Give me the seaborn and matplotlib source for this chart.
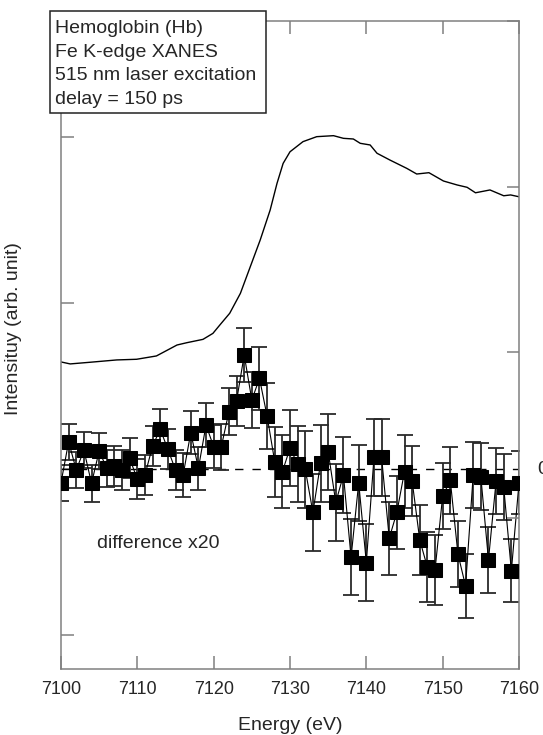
import numpy as np
import matplotlib
matplotlib.use("Agg")
import matplotlib.pyplot as plt
from matplotlib.patches import Rectangle
import seaborn as sns

# ground state Fe K-edge XANES (arb. units)
xanes_energy = [7100.0, 7101.2, 7103.8, 7107.3, 7109.9, 7112.5, 7115.2, 7116.5,
                7118.6, 7119.9, 7120.8, 7122.1, 7123.5, 7124.8, 7126.1, 7127.4,
                7128.3, 7129.1, 7130.0, 7131.7, 7133.5, 7135.7, 7137.0, 7138.3,
                7139.2, 7140.5, 7141.4, 7143.1, 7145.3, 7146.6, 7148.2, 7150.1,
                7151.9, 7153.2, 7154.3, 7156.2, 7158.0, 7158.9, 7160.0]
xanes_signal = [0.645, 0.633, 0.643, 0.657, 0.661, 0.681, 0.747, 0.761,
                0.781, 0.817, 0.867, 0.938, 1.058, 1.219, 1.380, 1.560,
                1.721, 1.841, 1.911, 1.972, 2.002, 2.008, 1.992, 1.988,
                1.962, 1.952, 1.902, 1.861, 1.811, 1.777, 1.785, 1.735,
                1.711, 1.697, 1.664, 1.681, 1.646, 1.651, 1.640]

# laser on - laser off difference (x20), 1 eV steps
diff_energy = list(range(7100, 7161))
diff_signal = [-0.083, 0.164, -0.006, 0.114, -0.086, 0.108, 0.004, 0.018, -0.006, 0.064,
               -0.062, -0.036, 0.139, 0.239, 0.119, -0.006, -0.036, 0.219, 0.004, 0.265,
               0.134, 0.134, 0.345, 0.410, 0.687, 0.416, 0.546, 0.319, 0.044, -0.016,
               0.125, 0.030, -0.002, -0.261, 0.034, 0.104, -0.201, -0.036, -0.532, -0.083,
               -0.564, 0.070, 0.070, -0.417, -0.261, -0.016, -0.072, -0.428, -0.592, -0.608,
               -0.163, -0.069, -0.512, -0.705, -0.036, -0.046, -0.548, -0.072, -0.110, -0.613,
               -0.084]
diff_error = [0.11, 0.11, 0.11, 0.11, 0.11, 0.11, 0.11, 0.12, 0.12, 0.12,
              0.12, 0.12, 0.12, 0.12, 0.12, 0.12, 0.13, 0.13, 0.13, 0.13,
              0.13, 0.14, 0.14, 0.15, 0.16, 0.17, 0.19, 0.20, 0.21, 0.22,
              0.23, 0.23, 0.23, 0.23, 0.23, 0.23, 0.23, 0.23, 0.23, 0.23,
              0.23, 0.23, 0.23, 0.22, 0.22, 0.22, 0.21, 0.21, 0.21, 0.21,
              0.20, 0.20, 0.20, 0.19, 0.20, 0.20, 0.20, 0.20, 0.20, 0.19,
              0.19]

legend_lines = ["Hemoglobin (Hb)", "Fe K-edge XANES",
                "515 nm laser excitation", "delay = 150 ps"]

sns.set_style("ticks")
plt.rcParams['font.family'] = ['Liberation Sans', 'DejaVu Sans']

W, H = 543, 735
fig = plt.figure(figsize=(W / 100, H / 100), dpi=100)
ax = fig.add_axes([61 / W, 1 - 669 / H, 458 / W, 648 / H])

spine_col = "#808080"
for s in ax.spines.values():
    s.set_color(spine_col)
    s.set_linewidth(1.1)

# XANES curve
sns.lineplot(x=xanes_energy, y=xanes_signal, ax=ax, color="black",
             linewidth=1.0, sort=False, estimator=None)

# zero of the difference
ax.axhline(0, color="black", linewidth=1.0, linestyle=(0, (6, 6.5)), zorder=1)

# difference with error bars
ax.errorbar(diff_energy, diff_signal, yerr=diff_error, fmt="none",
            ecolor="#2a2a2a", elinewidth=1.3, capsize=5.5, capthick=1.3, zorder=2)
sns.lineplot(x=diff_energy, y=diff_signal, ax=ax, color="black",
             linewidth=0.8, marker="s", markersize=9.5, markeredgecolor="black",
             markerfacecolor="black", sort=False, estimator=None, zorder=3)

ax.set_xlim(7100, 7160)
ax.set_ylim(-1.2048, 2.6988)
ax.set_xticks(range(7100, 7161, 10))
ax.set_yticks([-1, 0, 1, 2])
ax.set_yticklabels([])
ax.tick_params(axis="both", direction="in", length=9.5, width=1.1,
               color=spine_col, labelsize=13, top=True, pad=9)
ax.tick_params(axis="y", left=True, right=False)

# right-hand ticks sit on a different grid
ax2 = ax.twinx()
ax2.set_ylim(ax.get_ylim())
ax2.set_yticks([2.6988, 1.699, 0.705, -0.297])
ax2.set_yticklabels([])
ax2.tick_params(axis="y", direction="in", length=9, width=1.1, color=spine_col)
for s in ax2.spines.values():
    s.set_visible(False)

ax.set_xlabel("Energy (eV)", fontsize=14, labelpad=13)
ax.set_ylabel("Intensituy (arb. unit)", fontsize=14)
ax.yaxis.set_label_coords(-0.085, 0.525)

ax.text(7104.7, -0.45, "difference x20", fontsize=14, ha="left", va="center")
ax.text(7162.4, 0, "0", fontsize=14, ha="left", va="center", clip_on=False)

# info box laid over the top-left corner of the frame
fig.add_artist(Rectangle((50 / W, 1 - 113 / H), 216 / W, 102 / H,
                         transform=fig.transFigure, facecolor="white",
                         edgecolor="#222222", linewidth=1.1, zorder=5))
for i, line in enumerate(legend_lines):
    fig.text(55 / W, 1 - (33 + 23.7 * i) / H, line, fontsize=14,
             ha="left", va="baseline", zorder=6)

fig.savefig("out.png", dpi=100)
